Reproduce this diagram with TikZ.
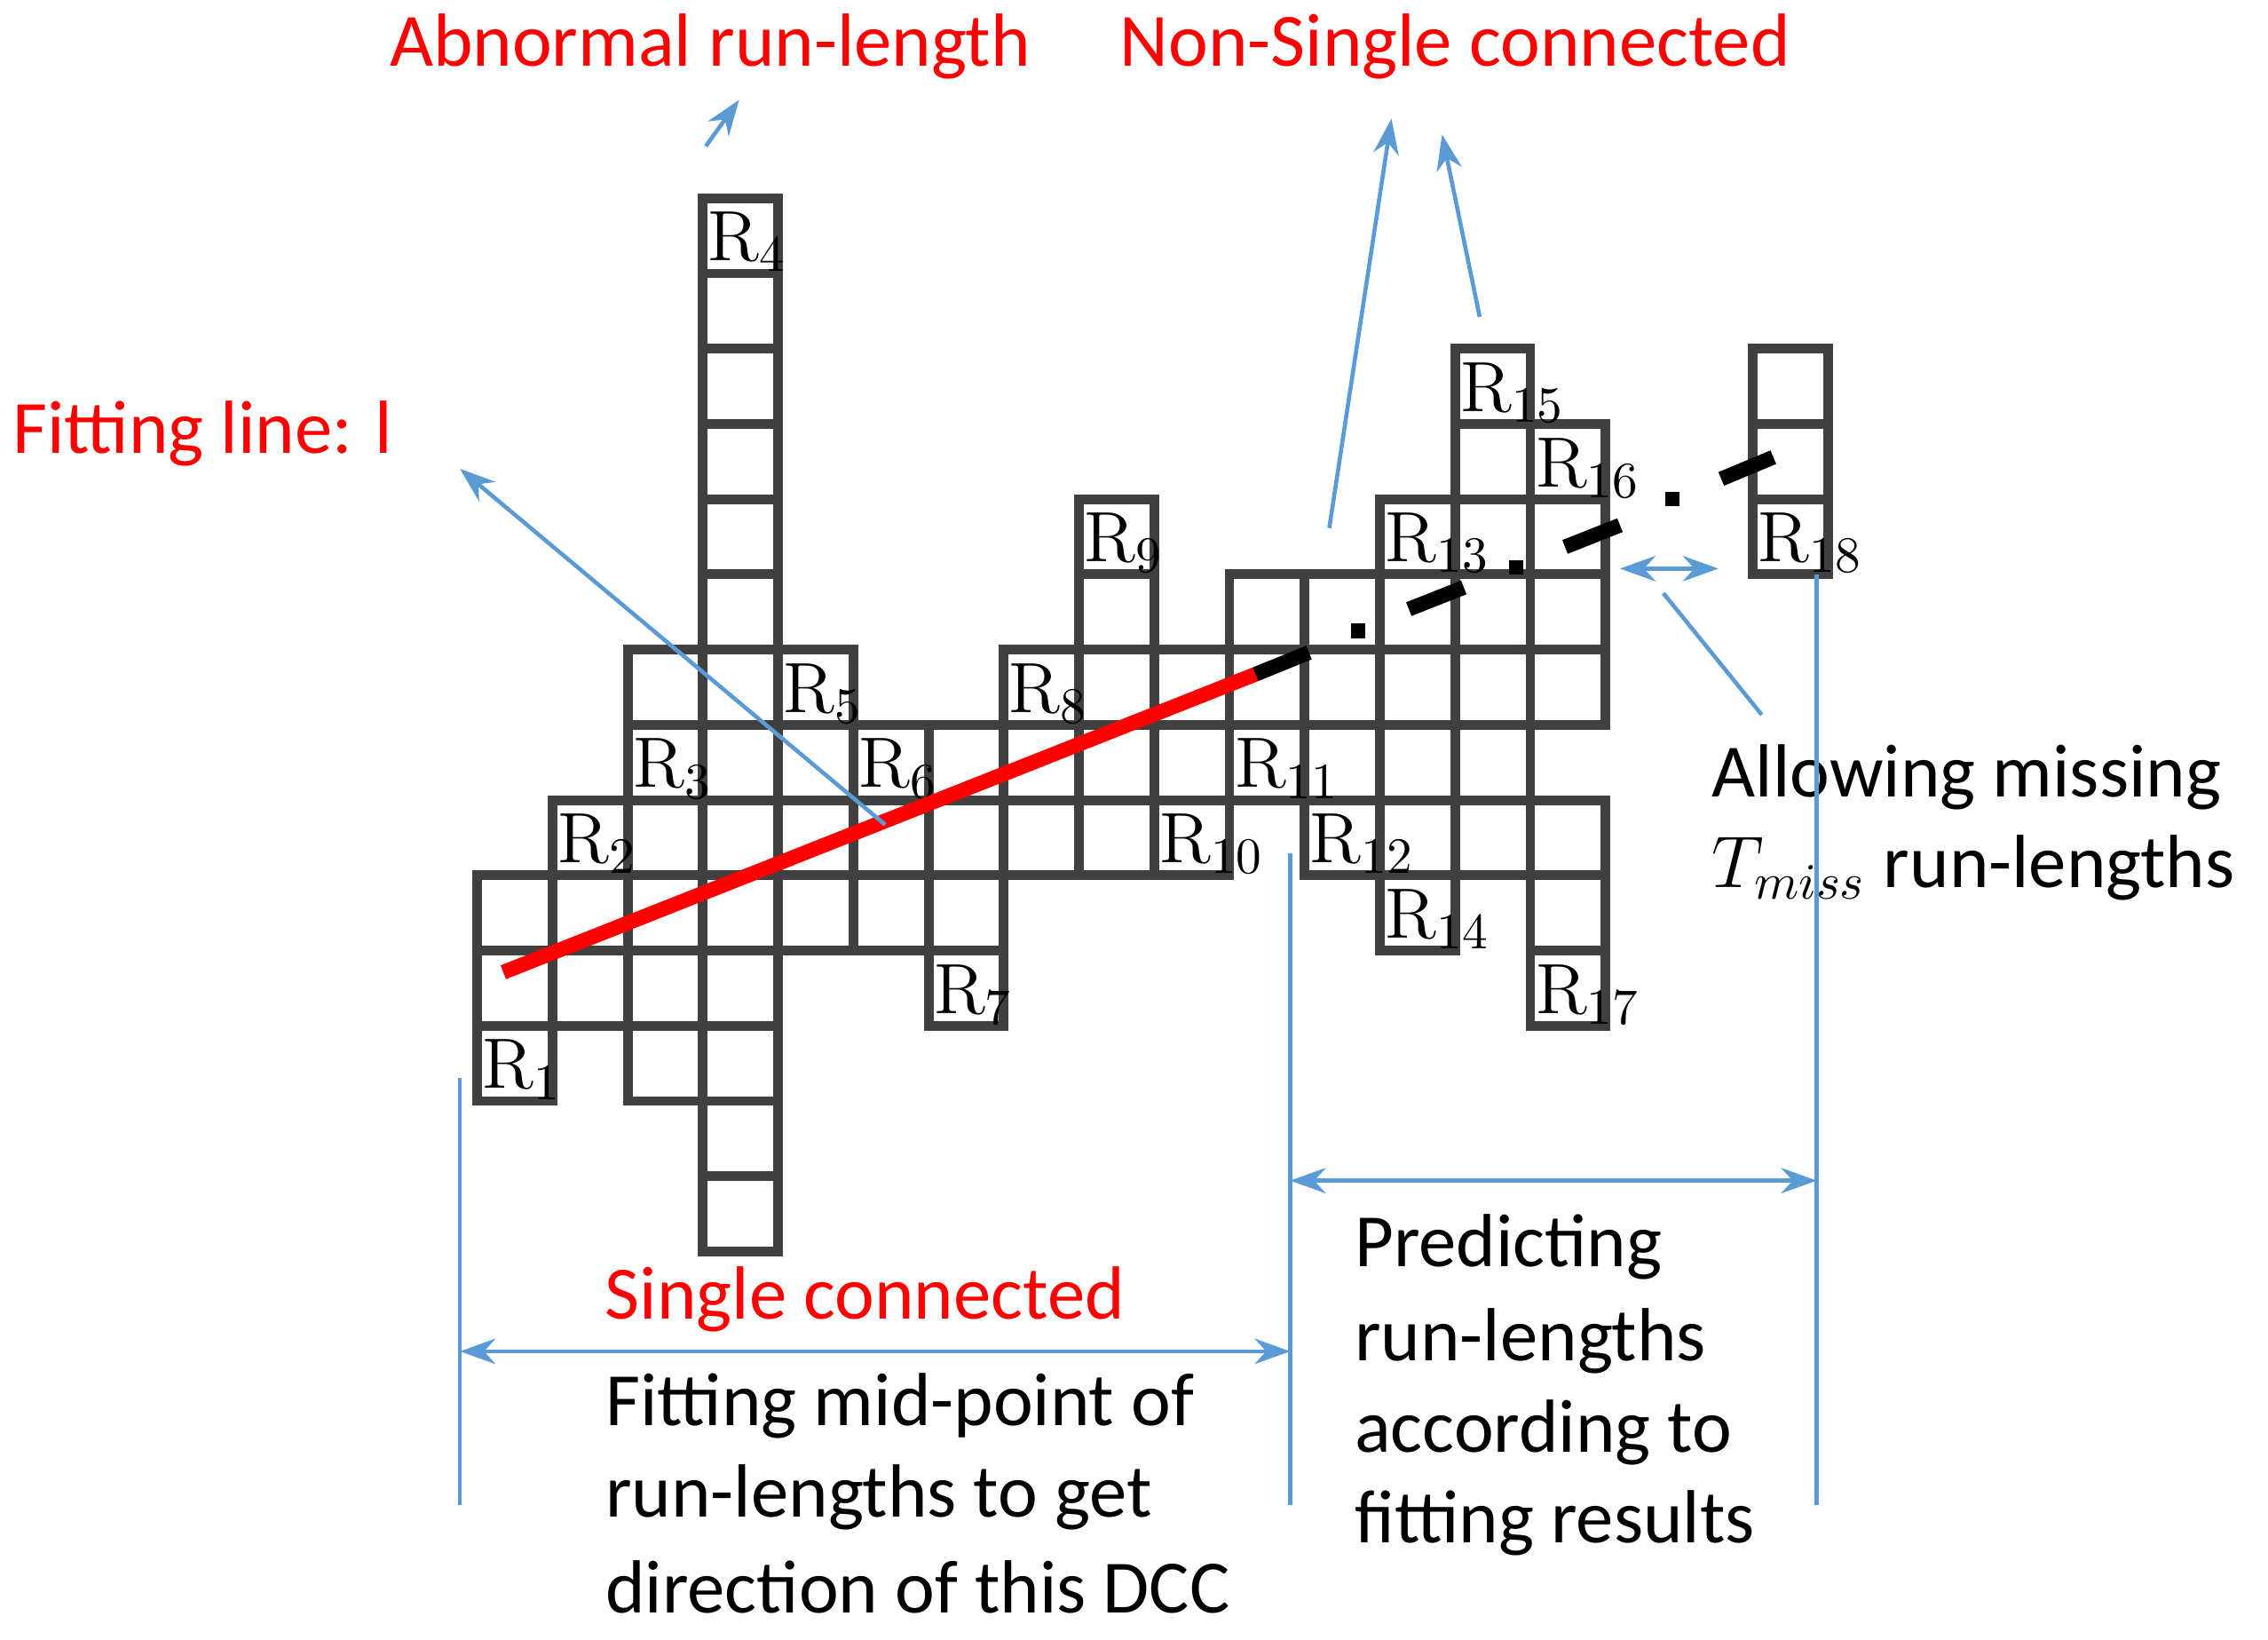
\documentclass[tikz,border=0pt]{standalone}
\usepackage{fontspec}
\setmainfont{Carlito}
\newfontfamily\lmr{Latin Modern Roman}
\usetikzlibrary{arrows.meta}
\definecolor{gridc}{HTML}{404040}
\definecolor{blu}{HTML}{5B9BD5}
\begin{document}
\begin{tikzpicture}[x=0.01cm,y=-0.01cm,
  cell/.style={draw=gridc,line width=1.9pt},
  lab/.style={anchor=north west,inner sep=0pt,font=\fontsize{14}{14}\lmr},
  txt/.style={anchor=west,inner sep=0pt,font=\fontsize{14.8}{17}\selectfont},
  rtxt/.style={txt,text=red},
  bl/.style={draw=blu,line width=0.8pt},
  ba/.style={bl,-{Stealth[length=7pt,width=5pt]}},
  bb/.style={bl,{Stealth[length=7pt,width=5pt]}-{Stealth[length=7pt,width=5pt]}},
  dsh/.style={line width=2.9pt,black}]
\useasboundingbox (0,0) rectangle (1568,1133);
% grid cells: column / first row / last row
\foreach \c/\a/\b in {0/9/11,1/8/10,2/6/11,3/0/13,4/6/9,5/7/9,6/7/10,7/6/8,8/4/8,9/6/8,10/5/7,11/5/8,12/4/9,13/2/8,14/3/6,14/8/10}{
  \foreach \r in {\a,...,\b}{
    \draw[cell] ({330+52*\c},{137+52*\r}) rectangle +(52,52);
  }
}
\foreach \r in {2,3,4}{\draw[cell] (1212,{137+52*\r}) rectangle +(52,52);}
% labels
\foreach \c/\r/\n in {0/11/1,1/8/2,2/7/3,3/0/4,4/6/5,5/7/6,6/10/7,7/6/8,8/4/9,9/8/10,10/7/11,11/8/12,12/4/13,12/9/14,13/2/15,14/3/16,14/10/17}{
  \node[lab] (R\n) at ({333+52*\c},{146+52*\r}) {R\raisebox{-0.35ex}{\fontsize{10}{10}\lmr\n}};
}
\node[lab] (R18) at (1215,354) {R\raisebox{-0.35ex}{\fontsize{10}{10}\lmr 18}};
% fitting line
\coordinate (f0) at (348,672); \coordinate (f1) at (868,466);
\draw[red,line width=2.9pt] (f0) -- (f1);
\draw[dsh] (f1) -- (905,451);
\fill (934,431) rectangle +(10,10);
\draw[dsh] (974,421) -- (1012,406);
\fill (1043,387) rectangle +(10,10);
\draw[dsh] (1082,378) -- (1120,363);
\fill (1151,340) rectangle +(10,10);
\draw[dsh] (1190,331) -- (1226,316);
% texts
\node[rtxt,anchor=center] (ab) at (491,32) {Abnormal run-length};
\node[rtxt,anchor=center] (ns) at (1006,32) {Non-Single connected};
\node[rtxt] (fl) at (8,300) {Fitting line: l};
\node[rtxt,anchor=center] (sc) at (598,898) {Single connected};
\node[txt] (t1) at (418,972) {Fitting mid-point of};
\node[txt] (t2) at (418,1035) {run-lengths to get};
\node[txt] (t3) at (418,1097) {direction of this DCC};
\node[txt] (p1) at (936,862) {Predicting};
\node[txt] (p2) at (936,927) {run-lengths};
\node[txt] (p3) at (936,990) {according to};
\node[txt] (p4) at (936,1053) {fitting results};
\node[txt] (m1) at (1183,537) {Allowing missing};
\node[txt] (m2) at (1183,600) {$T_{miss}$ run-lengths};
% blue connectors
\coordinate (a0) at (488,101); \coordinate (a1) at (511,69);
\draw[ba] (a0) -- (a1);
\coordinate (n0) at (919,365); \coordinate (n1) at (962,82);
\draw[ba] (n0) -- (n1);
\coordinate (n2) at (1023,219); \coordinate (n3) at (997,93);
\draw[ba] (n2) -- (n3);
\coordinate (l0) at (612,570); \coordinate (l1) at (318,324);
\draw[ba] (l0) -- (l1);
\coordinate (g0) at (1120,393); \coordinate (g1) at (1188,393);
\draw[bb] (g0) -- (g1);
\coordinate (h0) at (1218,494); \coordinate (h1) at (1150,410);
\draw[bl] (h0) -- (h1);
\coordinate (v1a) at (318,745); \coordinate (v1b) at (318,1040);
\coordinate (v2a) at (892,590); \coordinate (v2b) at (892,1040);
\coordinate (v3a) at (1256,397); \coordinate (v3b) at (1256,1040);
\draw[bl] (v1a) -- (v1b); \draw[bl] (v2a) -- (v2b); \draw[bl] (v3a) -- (v3b);
\coordinate (d1) at (318,934); \coordinate (d2) at (892,934);
\draw[bb] (d1) -- (d2);
\coordinate (e1) at (892,816); \coordinate (e2) at (1256,816);
\draw[bb] (e1) -- (e2);
\end{tikzpicture}
\end{document}
